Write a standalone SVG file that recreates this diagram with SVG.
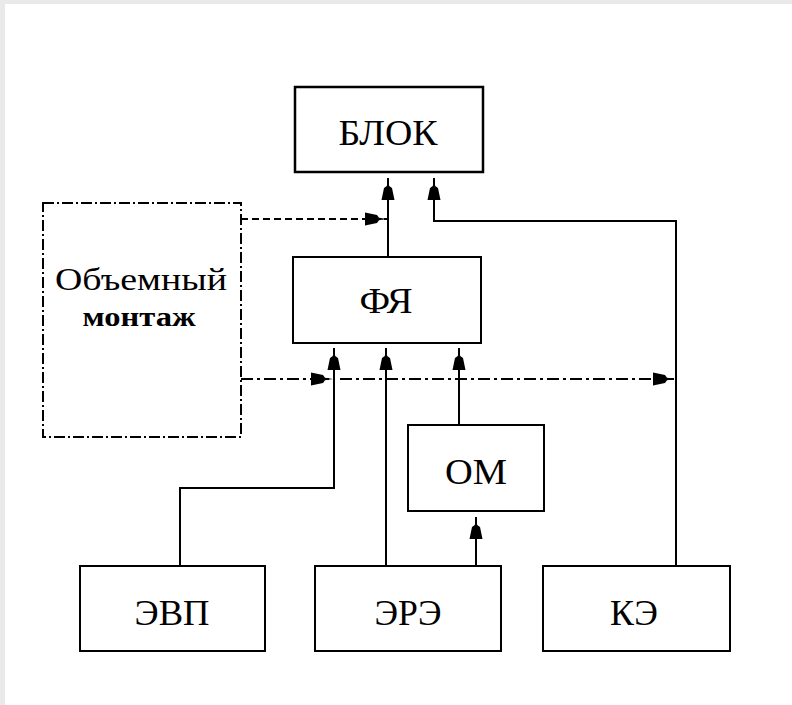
<svg xmlns="http://www.w3.org/2000/svg" width="792" height="705" viewBox="0 0 792 705">
  <style>
    .box { fill: #ffffff; stroke: #000000; stroke-width: 2; }
    .thick { stroke-width: 2.5; }
    .dashbox { fill: #ffffff; stroke: #000000; stroke-width: 2; stroke-dasharray: 11 3 2 3; }
    .line { fill: none; stroke: #000000; stroke-width: 2; }
    .dashed { fill: none; stroke: #000000; stroke-width: 2; stroke-dasharray: 7 4; }
    .dashdot { fill: none; stroke: #000000; stroke-width: 2; stroke-dasharray: 12 4 3 4; }
    .lbl { font-family: "Liberation Serif", "Times New Roman", serif; font-size: 36px; fill: #000000; text-anchor: middle; }
    .sm { font-size: 31px; }
    .sm2 { font-size: 27px; font-weight: bold; }
  </style>
  <defs>
    <marker id="arr" markerUnits="userSpaceOnUse" markerWidth="30" markerHeight="16" viewBox="-24 -8 26 16" refX="0" refY="0" orient="auto">
      <path d="M0,0 L-8,-1.2 L-10,-4 L-22,-6.5 L-22,6.5 L-10,4 L-8,1.2 Z" fill="#000000"/>
    </marker>
  </defs>
  <rect x="0" y="0" width="792" height="705" fill="#e9e9e9"/>
  <rect x="5" y="4" width="787" height="701" fill="#ffffff"/>

  <g id="connectors">
    <path class="line" d="M388,257 V178" marker-end="url(#arr)"/>
    <path class="line" d="M676,566 V221 H434 V178" marker-end="url(#arr)"/>
    <path class="dashed" d="M241,219 H387" marker-end="url(#arr)"/>
    <path class="line" d="M180,566 V488 H334 V348" marker-end="url(#arr)"/>
    <path class="line" d="M386,566 V348" marker-end="url(#arr)"/>
    <path class="line" d="M459,425 V348" marker-end="url(#arr)"/>
    <path class="line" d="M476,566 V517" marker-end="url(#arr)"/>
    <path class="dashdot" d="M241,379 H333" marker-end="url(#arr)"/>
    <path class="dashdot" d="M340,379 H675" marker-end="url(#arr)"/>
  </g>

  <g id="blok">
    <rect class="box thick" x="295" y="87" width="188" height="85"/>
    <text class="lbl" x="388" y="145" textLength="99" lengthAdjust="spacingAndGlyphs">БЛОК</text>
  </g>
  <g id="fya">
    <rect class="box" x="293" y="257" width="188" height="86"/>
    <text class="lbl" x="386" y="313" textLength="53" lengthAdjust="spacingAndGlyphs">ФЯ</text>
  </g>
  <g id="obemny">
    <rect class="dashbox" x="43" y="203" width="198" height="234"/>
    <text class="lbl sm" x="141" y="290" textLength="172" lengthAdjust="spacingAndGlyphs">Объемный</text>
    <text class="lbl sm2" x="139" y="326" textLength="113" lengthAdjust="spacingAndGlyphs">монтаж</text>
  </g>
  <g id="om">
    <rect class="box" x="408" y="425" width="136" height="86"/>
    <text class="lbl" x="476" y="484" textLength="62" lengthAdjust="spacingAndGlyphs">ОМ</text>
  </g>
  <g id="evp">
    <rect class="box" x="80" y="566" width="185" height="85"/>
    <text class="lbl" x="172" y="625" textLength="75" lengthAdjust="spacingAndGlyphs">ЭВП</text>
  </g>
  <g id="ere">
    <rect class="box" x="315" y="566" width="186" height="85"/>
    <text class="lbl" x="408" y="625" textLength="67" lengthAdjust="spacingAndGlyphs">ЭРЭ</text>
  </g>
  <g id="ke">
    <rect class="box" x="543" y="566" width="187" height="85"/>
    <text class="lbl" x="634" y="625" textLength="48" lengthAdjust="spacingAndGlyphs">КЭ</text>
  </g>
</svg>
